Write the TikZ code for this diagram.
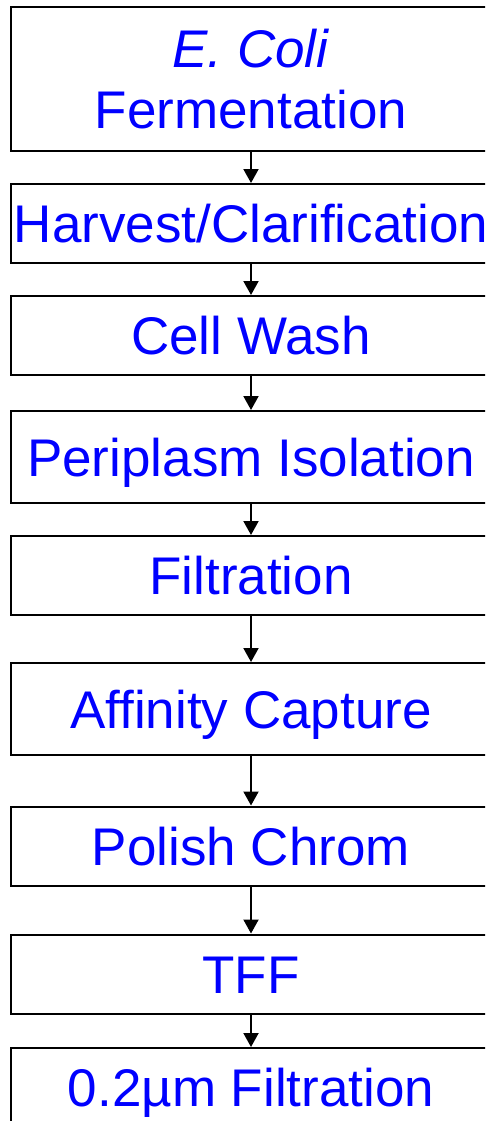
\documentclass[tikz,border=0pt]{standalone}
\usepackage{fontspec}
\setmainfont{Liberation Sans}
\usetikzlibrary{arrows.meta}
\begin{document}
\begin{tikzpicture}[x=1pt,y=-1pt,
  stepbox/.style={draw=black, line width=2pt, fill=white, minimum width=480pt,
    inner sep=0pt, text=blue, font=\fontsize{53}{61}\selectfont,
    text height=38pt, text depth=0pt},
  short/.style={stepbox, minimum height=79pt},
  tall/.style={stepbox, minimum height=92pt},
  flow/.style={draw=black, line width=2pt, -{Triangle[width=15pt,length=14pt]}}]
\useasboundingbox (0,0) rectangle (485,1121);
\clip (0,0) rectangle (485,1121);
% process steps, top to bottom
\node[stepbox, minimum height=144pt, align=center, text height=99pt] (ferm) at (251,79)
  {\textit{E. Coli}\\Fermentation};
\node[short] (harv)   at (251,223.5) {Harvest/Clarification};
\node[short] (wash)   at (251,335.5) {Cell Wash};
\node[tall]  (peri)   at (251,457)   {Periplasm Isolation};
\node[short] (filt)   at (251,575.5) {Filtration};
\node[tall]  (aff)    at (251,709)   {Affinity Capture};
\node[short] (polish) at (251,846)   {Polish Chrom};
\node[short] (tff)    at (251,974)   {TFF};
\node[short] (final)  at (251,1087.5) {0.2µm Filtration};
% connectors
\draw[flow] (ferm) -- (harv);
\draw[flow] (harv) -- (wash);
\draw[flow] (wash) -- (peri);
\draw[flow] (peri) -- (filt);
\draw[flow] (filt) -- (aff);
\draw[flow] (aff) -- (polish);
\draw[flow] (polish) -- (tff);
\draw[flow] (tff) -- (final);
\end{tikzpicture}
\end{document}
